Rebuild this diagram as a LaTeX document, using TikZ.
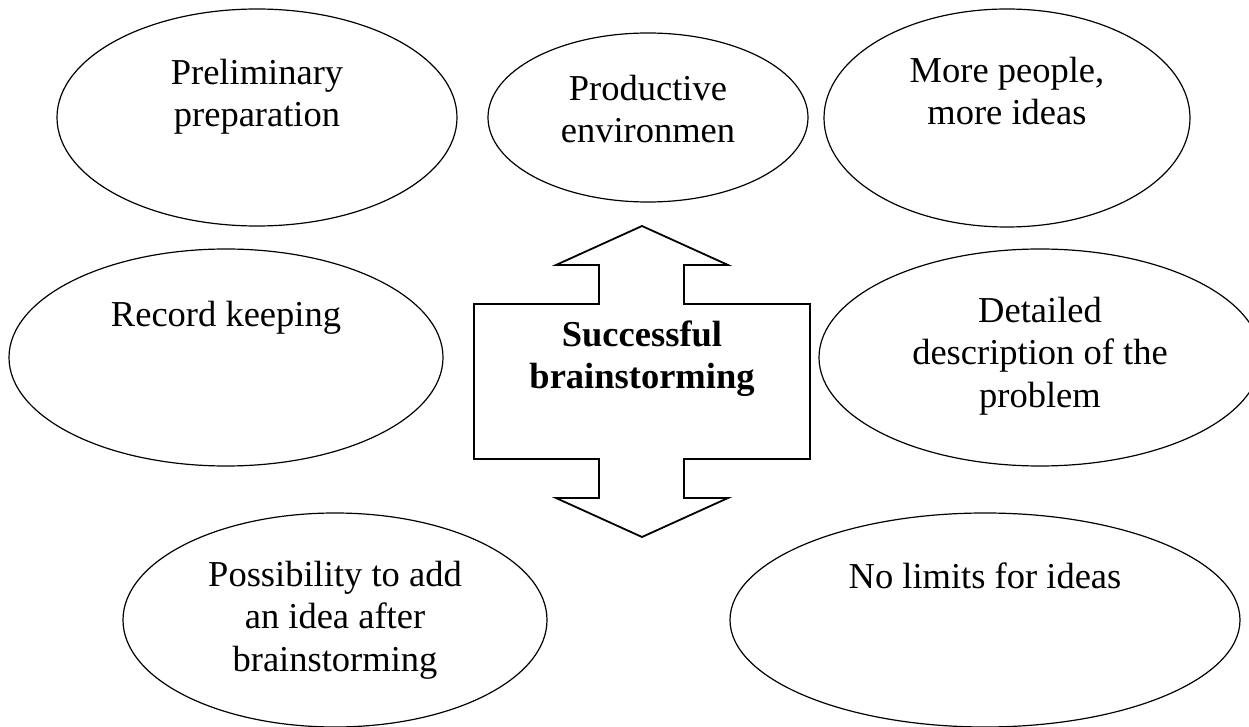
\documentclass[tikz,border=0pt]{standalone}
\usepackage{fontspec}
\setmainfont{Liberation Serif}
\usetikzlibrary{shapes.geometric,positioning}

\begin{document}
\begin{tikzpicture}[x=0.5pt, y=-0.5pt,
    oval/.style={ellipse, draw, line width=0.6pt, inner sep=0pt},
    ovaltext/.style={anchor=north, inner sep=0pt, align=center, font=\fontsize{18.25}{21.3}\selectfont, execute at begin node=\strut},
    hub/.style={draw, line width=0.9pt, line join=miter},
    hubtext/.style={ovaltext, font=\fontsize{18.25}{21.3}\selectfont\bfseries}]

    \useasboundingbox (0,0) rectangle (1249,727);

    % top row
    \node[oval, minimum width=200pt, minimum height=108.5pt] (prelim) at (257,117.5) {};
    \node[oval, minimum width=160pt, minimum height=84.5pt] (product) at (648,117.5) {};
    \node[oval, minimum width=183pt, minimum height=109pt] (people) at (1007,118) {};

    % middle row
    \node[oval, minimum width=217pt, minimum height=108.5pt] (record) at (226,357.5) {};
    \node[oval, minimum width=221pt, minimum height=108.5pt] (detail) at (1040,357.5) {};

    % bottom row
    \node[oval, minimum width=212pt, minimum height=107pt] (possib) at (335,620) {};
    \node[oval, minimum width=255pt, minimum height=107pt] (limits) at (985,620) {};

    \node[ovaltext, below=25pt of prelim.north] (prelim_t) {Preliminary\\preparation};
    \node[ovaltext, below=21pt of product.north] (product_t) {Productive\\environmen};
    \node[ovaltext, below=24pt of people.north] (people_t) {More people,\\more ideas};
    \node[ovaltext, below=24pt of record.north] (record_t) {Record keeping};
    \node[ovaltext, below=24pt of detail.north] (detail_t) {Detailed\\description of the\\problem};
    \node[ovaltext, below=24pt of possib.north] (possib_t) {Possibility to add\\an idea after\\brainstorming};
    \node[ovaltext, below=23pt of limits.north] (limits_t) {No limits for ideas};

    % central double arrow
    \draw[hub] (642,226) -- (728,265) -- (684,265) -- (684,304) -- (810,304)
        -- (810,459) -- (684,459) -- (684,498) -- (728,498) -- (642,537)
        -- (556,498) -- (599,498) -- (599,459) -- (474,459) -- (474,304)
        -- (599,304) -- (599,265) -- (556,265) -- cycle;
    \node[hubtext] (hub_t) at (642,320) {Successful\\brainstorming};
\end{tikzpicture}
\end{document}
